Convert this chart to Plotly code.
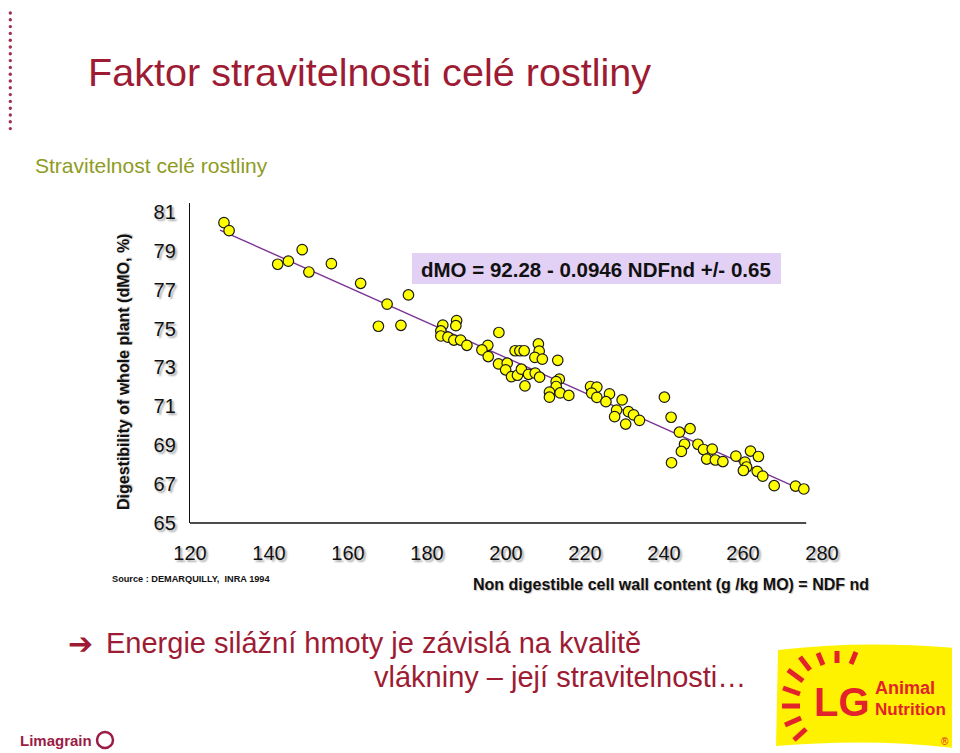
import plotly.graph_objects as go

# ---------------- data ----------------
ndf_nd = [128.6, 129.9, 148.4, 142.2, 144.9, 150.1, 155.8, 163.2, 169.9, 175.3,
          167.7, 173.4, 184.0, 187.5, 187.3, 183.5, 183.5, 185.3, 186.8, 188.5,
          190.1, 198.2, 195.4, 193.9, 195.5, 198.1, 200.3, 199.9, 201.4, 202.9,
          203.9, 202.3, 203.5, 204.6, 208.2, 208.4, 207.3, 209.2, 213.1, 205.7,
          207.4, 208.5, 204.8, 213.5, 212.7, 212.7, 211.0, 211.0, 213.7, 215.9,
          221.4, 223.0, 221.7, 223.0, 226.2, 225.3, 229.4, 228.0, 227.5, 231.0,
          232.3, 233.8, 230.3, 240.1, 241.8, 243.9, 246.6, 245.2, 244.4, 241.9,
          248.6, 250.0, 252.2, 250.8, 253.0, 254.9, 258.2, 261.9, 263.9, 260.5,
          260.9, 260.1, 263.6, 265.0, 267.9, 273.3, 275.4]
dmo = [80.45, 80.04, 79.06, 78.31, 78.47, 77.91, 78.34, 77.33, 76.26, 76.73,
       75.12, 75.17, 75.18, 75.41, 75.15, 74.88, 74.62, 74.56, 74.41, 74.41,
       74.14, 74.80, 74.14, 73.90, 73.56, 73.18, 73.22, 72.88, 72.53, 72.60,
       72.91, 73.86, 73.86, 73.86, 74.21, 73.84, 73.52, 73.43, 73.37, 72.65,
       72.71, 72.50, 72.05, 72.40, 72.27, 72.02, 71.73, 71.47, 71.69, 71.56,
       72.02, 71.99, 71.68, 71.46, 71.64, 71.24, 71.33, 70.81, 70.47, 70.73,
       70.56, 70.28, 70.09, 71.47, 70.44, 69.67, 69.85, 69.05, 68.68, 68.10,
       69.05, 68.78, 68.80, 68.29, 68.24, 68.16, 68.44, 68.70, 68.42, 68.13,
       67.88, 67.70, 67.66, 67.41, 66.92, 66.90, 66.75]

fit_x = [127.6, 276.2]
fit_y = [80.07, 66.59]

x_ticks = [120, 140, 160, 180, 200, 220, 240, 260, 280]
y_ticks = [65, 67, 69, 71, 73, 75, 77, 79, 81]

equation = "dMO = 92.28 - 0.0946 NDFnd +/- 0.65"
title_text = "Faktor stravitelnosti celé rostliny"
subtitle_text = "Stravitelnost celé rostliny"
y_title = "Digestibility of whole plant (dMO, %)"
x_title = "Non digestible cell wall content (g /kg MO) = NDF nd"
source_text = "Source : DEMARQUILLY,  INRA 1994"
line1 = "Energie silážní hmoty je závislá na kvalitě"
line2 = "vlákniny – její stravitelnosti…"

# ---------------- layout helpers (reference pixel -> paper) ----------------
OFF = 8                      # default page margin of the html body
W, H = 960 - OFF, 753 - OFF
L, R, T, B = 190, 822, 203, 523   # plot area in reference pixels


def px(x):
    return (x - L) / (R - L)


def py(y):
    return (B - y) / (B - T)


RED = "#9E1B34"
OLIVE = "#8E9B1F"
FONT = "Arial, Liberation Sans, sans-serif"
SHADOW = "2px 2px 2px #a8a8a8"

fig = go.Figure()

fig.add_trace(go.Scatter(
    x=fit_x, y=fit_y, mode="lines",
    line=dict(color="#7B3294", width=1.4),
    hoverinfo="skip", showlegend=False))

fig.add_trace(go.Scatter(
    x=ndf_nd, y=dmo, mode="markers",
    marker=dict(symbol="circle", size=10.5, color="#FFFF00",
                line=dict(color="#1a1a1a", width=1.2)),
    showlegend=False))

shapes = []
# x-axis line
shapes.append(dict(type="line", xref="x", yref="paper", x0=119.8, x1=276.0,
                   y0=0, y1=0, line=dict(color="#111111", width=1.3)))
# equation box
shapes.append(dict(type="rect", xref="paper", yref="paper",
                   x0=px(412), x1=px(781), y0=py(284), y1=py(253),
                   fillcolor="#E3D0F5", line=dict(width=0), layer="below"))
# dotted decoration on the left edge
for i in range(18):
    cy = 13 + i * 6.8
    shapes.append(dict(type="circle", xref="paper", yref="paper",
                       x0=px(8.6), x1=px(12.0), y0=py(cy + 1.7), y1=py(cy - 1.7),
                       fillcolor="#A0324F", line=dict(width=0)))
# LG logo background (yellow flag)
shapes.append(dict(type="path", xref="paper", yref="paper",
                   path=("M {a},{b} Q {c},{d} {e},{f} L {g},{h} Q {i},{j} {k},{l} Z").format(
                       a=px(778), b=py(650), c=px(860), d=py(640), e=px(955), f=py(648),
                       g=px(955), h=py(748), i=px(870), j=py(738), k=px(776), l=py(746)),
                   fillcolor="#FFF200", line=dict(width=0)))
# sunburst strokes of the LG logo
rays = [((800, 657), (810, 670)), ((788, 670), (803, 681)), ((783, 688), (800, 694)),
        ((782, 706), (800, 706)), ((785, 725), (801, 718)), ((794, 740), (806, 729)),
        ((818, 653), (823, 665)), ((837, 651), (837, 663)), ((856, 652), (851, 664))]
for (x0, y0), (x1, y1) in rays:
    shapes.append(dict(type="line", xref="paper", yref="paper",
                       x0=px(x0), y0=py(y0), x1=px(x1), y1=py(y1),
                       line=dict(color="#E3232C", width=5)))
# Limagrain icon
shapes.append(dict(type="circle", xref="paper", yref="paper",
                   x0=px(97), x1=px(113), y0=py(748), y1=py(732),
                   fillcolor="rgba(0,0,0,0)", line=dict(color="#9B1B45", width=2.5)))

annotations = [
    dict(text=title_text, x=px(86), y=py(72), xanchor="left", yanchor="middle",
         font=dict(family=FONT, size=39.6, color=RED)),
    dict(text=subtitle_text, x=px(33), y=py(166), xanchor="left", yanchor="middle",
         font=dict(family=FONT, size=21, color=OLIVE)),
    dict(text="<b>" + y_title + "</b>", x=px(123), y=py(372), textangle=-90,
         xanchor="center", yanchor="middle",
         font=dict(family=FONT, size=16, color="#111111", shadow="1px 1px 1px #c0c0c0")),
    dict(text="<b>" + equation + "</b>", x=px(596), y=py(269),
         xanchor="center", yanchor="middle",
         font=dict(family=FONT, size=20.5, color="#111111")),
    dict(text="<b>" + source_text + "</b>", x=px(110), y=py(579),
         xanchor="left", yanchor="middle",
         font=dict(family=FONT, size=9.2, color="#111111")),
    dict(text="<b>" + x_title + "</b>", x=px(471), y=py(584),
         xanchor="left", yanchor="middle",
         font=dict(family=FONT, size=16, color="#111111", shadow="1px 1px 1px #c0c0c0")),
    dict(text="➔", x=px(66), y=py(643), xanchor="left", yanchor="middle",
         font=dict(family="DejaVu Sans", size=30, color=RED)),
    dict(text=line1, x=px(104), y=py(643), xanchor="left", yanchor="middle",
         font=dict(family=FONT, size=29, color=RED)),
    dict(text=line2, x=px(372), y=py(677), xanchor="left", yanchor="middle",
         font=dict(family=FONT, size=29, color=RED)),
    dict(text="<b>Limagrain</b>", x=px(18), y=py(740), xanchor="left", yanchor="middle",
         font=dict(family=FONT, size=15, color="#9B1B45")),
    dict(text="<b>LG</b>", x=px(812), y=py(702), xanchor="left", yanchor="middle",
         font=dict(family=FONT, size=40, color="#E3232C")),
    dict(text="<b>Animal</b>", x=px(873), y=py(688), xanchor="left", yanchor="middle",
         font=dict(family=FONT, size=18, color="#E3232C")),
    dict(text="<b>Nutrition</b>", x=px(873), y=py(709), xanchor="left", yanchor="middle",
         font=dict(family=FONT, size=17, color="#E3232C")),
    dict(text="®", x=px(945), y=py(741), xanchor="center", yanchor="middle",
         font=dict(family=FONT, size=10, color="#E3232C")),
]
for a in annotations:
    a.update(xref="paper", yref="paper", showarrow=False)

fig.update_layout(
    width=W, height=H,
    margin=dict(l=L - OFF, r=W - (R - OFF), t=T - OFF, b=H - (B - OFF), pad=0),
    paper_bgcolor="white", plot_bgcolor="white",
    showlegend=False,
    shapes=shapes,
    annotations=annotations,
    xaxis=dict(range=[120, 280], tickmode="array", tickvals=x_ticks,
               ticktext=[str(v) for v in x_ticks],
               showgrid=False, zeroline=False, showline=False, ticks="",
               ticklabelstandoff=16, automargin=False,
               tickfont=dict(family=FONT, size=20, color="#111111", shadow=SHADOW)),
    yaxis=dict(range=[65, 81.46], tickmode="array", tickvals=y_ticks,
               ticktext=[str(v) for v in y_ticks],
               showgrid=False, zeroline=False, showline=True,
               linecolor="#111111", linewidth=1.3, ticks="",
               ticklabelstandoff=9, automargin=False,
               tickfont=dict(family=FONT, size=20, color="#111111", shadow=SHADOW)),
)

fig.write_html("out.html")
